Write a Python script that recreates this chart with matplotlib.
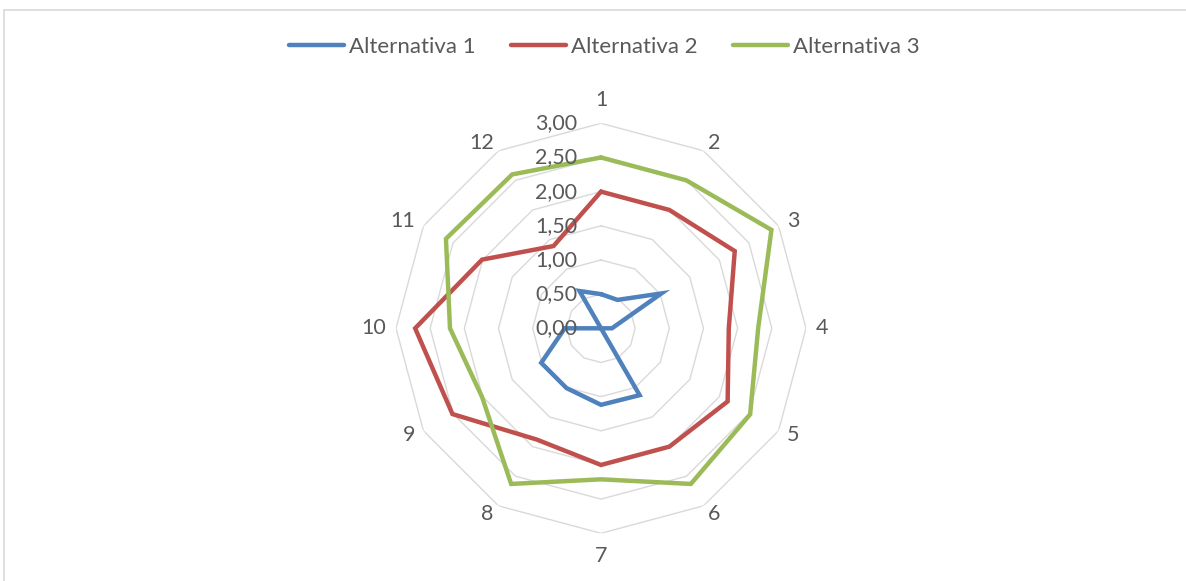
import numpy as np
import matplotlib
matplotlib.use("Agg")
import matplotlib.pyplot as plt
from matplotlib.patches import Rectangle

# categories 1..12 around the radar, clockwise from the top
categories = [str(i) for i in range(1, 13)]

alt1 = [0.50, 0.48, 1.02, 0.16, 0.00, 1.13, 1.12, 1.01, 1.01, 0.53, 0.00, 0.63]
alt2 = [2.00, 2.00, 2.26, 1.87, 2.14, 2.00, 2.00, 1.88, 2.51, 2.72, 2.01, 1.39]
alt3 = [2.50, 2.50, 2.88, 2.30, 2.52, 2.63, 2.21, 2.63, 2.01, 2.21, 2.62, 2.60]

series_names = ["Alternativa 1", "Alternativa 2", "Alternativa 3"]
series_colors = ["#4f81bd", "#c0504d", "#9bbb59"]

ring_values = [0.0, 0.5, 1.0, 1.5, 2.0, 2.5, 3.0]
ring_labels = ["0,00", "0,50", "1,00", "1,50", "2,00", "2,50", "3,00"]

plt.rcParams['font.family'] = ['Lato', 'DejaVu Sans']
text_color = "#595959"

W, H = 1186, 581
fig = plt.figure(figsize=(W / 100, H / 100), dpi=100)

# light frame round the chart area (cropped at right and bottom)
fig.patches.append(Rectangle((3.5 / W, -0.05), 1.2, 1 - 10.5 / H + 0.05,
                             transform=fig.transFigure, fill=False,
                             edgecolor="#d9d9d9", linewidth=1.2))

cx, cy, rad = 601, 328.3, 205
ax = fig.add_axes([(cx - rad) / W, (H - cy - rad) / H, 2 * rad / W, 2 * rad / H],
                  projection="polar")
ax.set_theta_zero_location("N")
ax.set_theta_direction(-1)
ax.set_ylim(0, 3)
ax.grid(False)
ax.set_xticks([])
ax.set_yticks([])
ax.spines["polar"].set_visible(False)
ax.patch.set_alpha(0)

n = len(categories)
angles = np.arange(n) * 2 * np.pi / n
closed = np.append(angles, angles[0])

# polygon gridlines
for r in ring_values[1:]:
    ax.plot(closed, [r] * (n + 1), color="#d9d9d9", linewidth=1.0, zorder=1)

# data series
for vals, name, col in zip([alt1, alt2, alt3], series_names, series_colors):
    ax.plot(closed, vals + vals[:1], color=col, linewidth=3.2, label=name,
            solid_joinstyle="miter", solid_capstyle="round", zorder=3)

# value labels along the top axis
for r, lab in zip(ring_values, ring_labels):
    ax.annotate(lab, xy=(0, r), xytext=(-24, 0), textcoords="offset pixels",
                ha="right", va="center", fontsize=15.5, color=text_color, zorder=4)

# category labels, placed just outside the outer ring
for a, lab in zip(angles, categories):
    s, c = np.sin(a), np.cos(a)
    if s > 0.1:
        ha = "left"
    elif s < -0.1:
        ha = "right"
    else:
        ha = "center"
    dy = 23 * np.sign(c) if abs(c) > 0.99 else 9 * c
    ax.annotate(lab, xy=(a, 3.0), xytext=(9.5 * s, dy), textcoords="offset pixels",
                ha=ha, va="center", fontsize=15.5, color=text_color)

fig.legend(loc="center", bbox_to_anchor=(604 / W, 1 - 47 / H), ncol=3,
           frameon=False, fontsize=16, handlelength=2.5, handletextpad=0.2,
           columnspacing=1.6, labelcolor=text_color)

fig.savefig("out.png", dpi=100)
